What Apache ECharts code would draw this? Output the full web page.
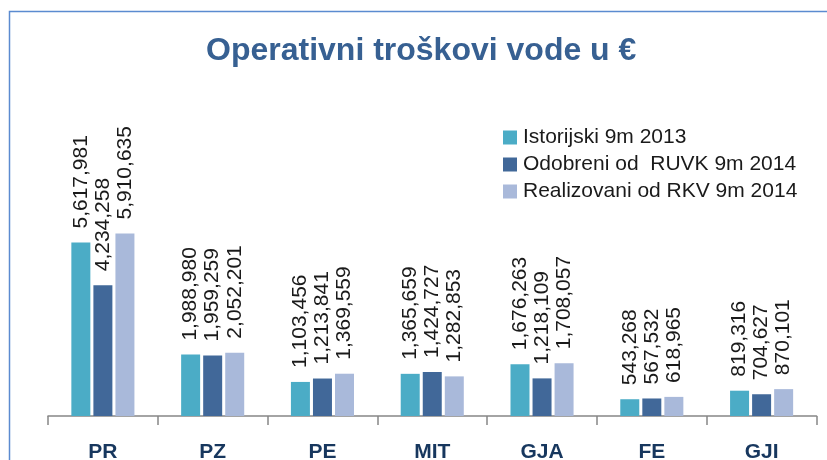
<!DOCTYPE html>
<html>
<head>
<meta charset="utf-8">
<script src="https://cdn.jsdelivr.net/npm/echarts@6/dist/echarts.min.js"></script>
<style>
  html, body { margin: 0; padding: 0; background: #fff; }
  #chart { width: 827px; height: 460px; }
</style>
</head>
<body>
<div id="chart"></div>
<script>
var categories = ['PR', 'PZ', 'PE', 'MIT', 'GJA', 'FE', 'GJI']
var seriesNames = ['Istorijski 9m 2013', 'Odobreni od  RUVK 9m 2014', 'Realizovani od RKV 9m 2014']
// Istorijski 9m 2013
var istorijski = [5617981, 1988980, 1103456, 1365659, 1676263, 543268, 819316]
// Odobreni od RUVK 9m 2014
var odobreni = [4234258, 1959259, 1213841, 1424727, 1218109, 567532, 704627]
// Realizovani od RKV 9m 2014
var realizovani = [5910635, 2052201, 1369559, 1282853, 1708057, 618965, 870101]
var colors = ['#4BACC6', '#416899', '#A9B9DA']

var font = '"Liberation Sans", Arial, sans-serif'

function makeSeries (name, data, color) {
  return {
    name: name,
    type: 'bar',
    data: data,
    barWidth: 19,
    barGap: '16%',
    itemStyle: { color: color },
    label: {
      show: true,
      position: 'top',
      distance: 14,
      rotate: 90,
      align: 'left',
      verticalAlign: 'middle',
      color: '#1a1a1a',
      fontFamily: font,
      fontSize: 21,
      formatter: function (p) {
        return p.value.toLocaleString('en-US')
      }
    }
  }
}

var chart = echarts.init(document.getElementById('chart'))
chart.setOption({
  animation: false,
  color: colors,
  title: {
    text: 'Operativni troškovi vode u €',
    left: 206,
    top: 35,
    padding: 0,
    textStyle: {
      color: '#376092',
      fontFamily: font,
      fontWeight: 'bold',
      fontSize: 32
    }
  },
  legend: {
    orient: 'vertical',
    left: 503,
    top: 127,
    padding: 0,
    itemWidth: 14,
    itemHeight: 14,
    itemGap: 6,
    icon: 'rect',
    data: seriesNames,
    textStyle: {
      color: '#1a1a1a',
      fontFamily: font,
      fontSize: 21,
      lineHeight: 21,
      padding: [0, 0, 0, 1]
    }
  },
  grid: {
    left: 48,
    right: 10.5,
    top: 169,
    bottom: 44,
    containLabel: false,
    outerBoundsMode: 'none'
  },
  xAxis: {
    type: 'category',
    data: categories,
    axisLine: { show: true, lineStyle: { color: '#868686', width: 1.5 } },
    axisTick: { show: true, length: 9, lineStyle: { color: '#868686', width: 1.5 } },
    axisLabel: {
      margin: 26,
      color: '#17375E',
      fontFamily: font,
      fontWeight: 'bold',
      fontSize: 21
    }
  },
  yAxis: {
    type: 'value',
    min: 0,
    max: 8000000,
    show: false,
    splitLine: { show: false }
  },
  graphic: [{
    type: 'rect',
    shape: { x: 9.5, y: 11.5, width: 900, height: 600 },
    style: { fill: 'none', stroke: '#5B8BD0', lineWidth: 1.5 },
    silent: true
  }],
  series: [
    makeSeries(seriesNames[0], istorijski, colors[0]),
    makeSeries(seriesNames[1], odobreni, colors[1]),
    makeSeries(seriesNames[2], realizovani, colors[2])
  ]
})
</script>
</body>
</html>
